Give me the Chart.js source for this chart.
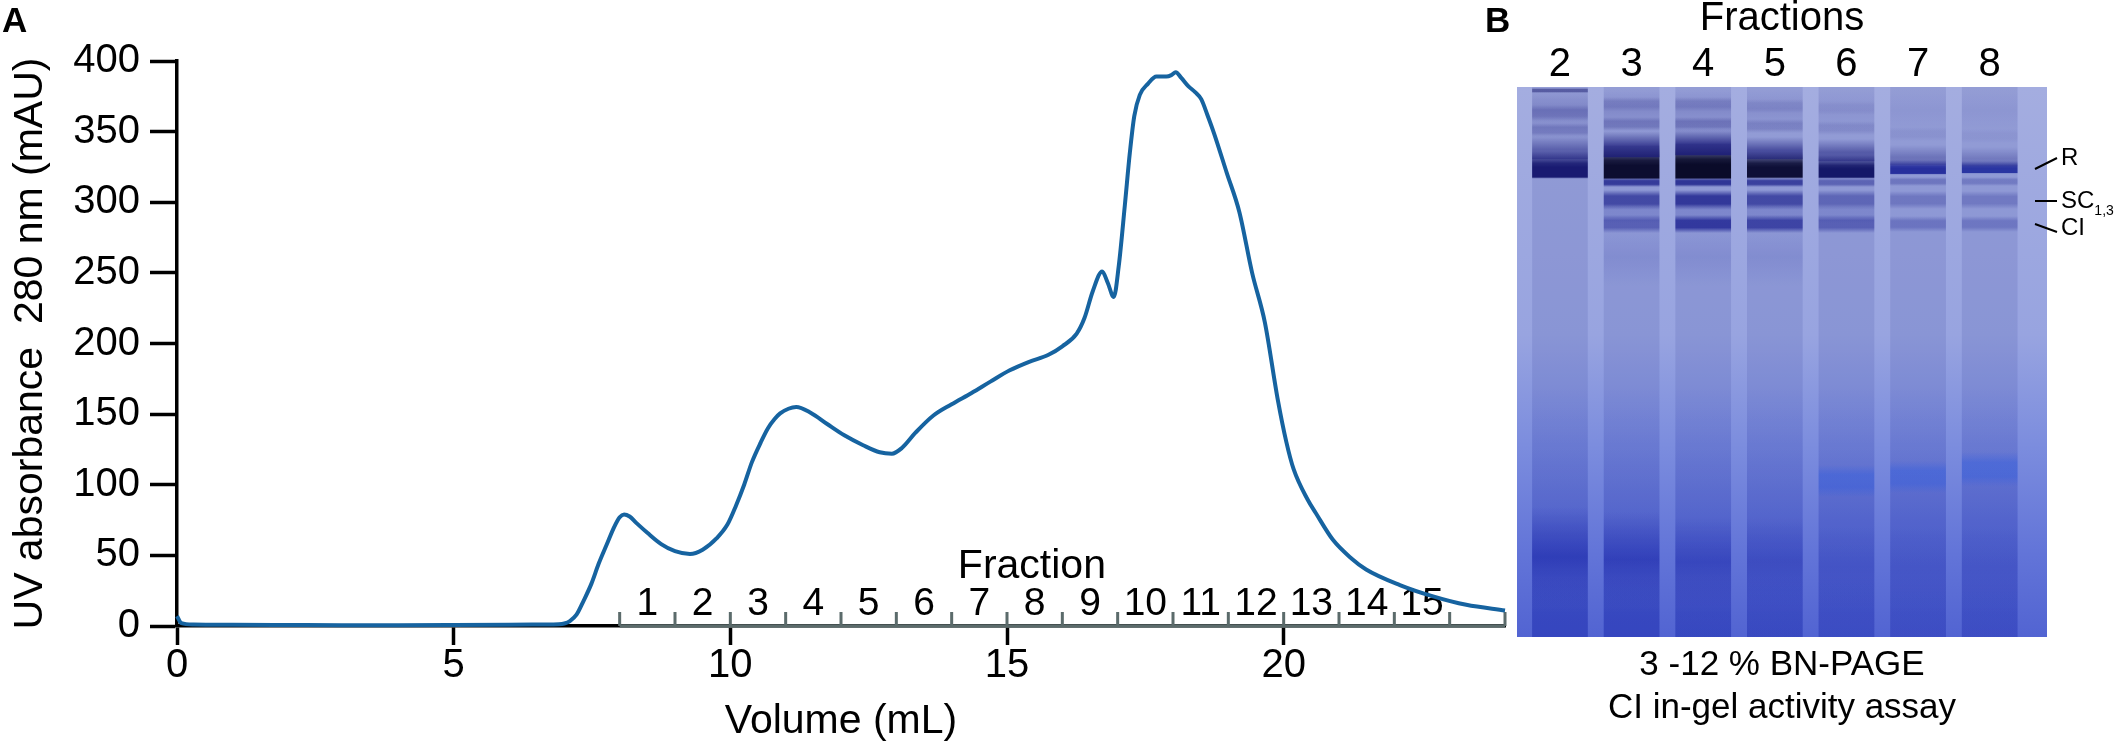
<!DOCTYPE html>
<html>
<head>
<meta charset="utf-8">
<script src="https://cdn.jsdelivr.net/npm/chart.js@4.4.1/dist/chart.umd.min.js"></script>
<style>
html,body{margin:0;padding:0;background:#fff;}
body{width:2125px;height:752px;position:relative;overflow:hidden;font-family:"Liberation Sans",Arial,sans-serif;color:#000;}
#wa{position:absolute;left:0;top:0;width:1512px;height:752px;}
#wb{position:absolute;left:1512px;top:0;width:613px;height:752px;}
.panel{position:absolute;font-weight:bold;font-size:35px;line-height:1;}
.mark{position:absolute;font-size:24px;line-height:1;white-space:nowrap;}
.mark sub{font-size:14px;vertical-align:baseline;position:relative;top:7px;}
</style>
</head>
<body>
<div id="wa"><canvas id="ca" width="1512" height="752"></canvas></div>
<div id="wb"><canvas id="cb" width="613" height="752"></canvas></div>
<div class="panel" style="left:2px;top:2px;">A</div>
<div class="panel" style="left:1485px;top:2px;">B</div>
<div class="mark" style="left:2061px;top:145px;">R</div>
<div class="mark" style="left:2061px;top:188px;">SC<sub>1,3</sub></div>
<div class="mark" style="left:2061px;top:215px;">CI</div>
<script>
const FONT = "'Liberation Sans', Arial, sans-serif";

// ---------- Panel A data ----------
const volume = [0.0,0.08,0.3,1,2,3,4,5,6,6.6,6.9,7.0,7.1,7.22,7.35,7.49,7.62,7.77,7.9,8.0,8.08,8.18,8.3,8.5,8.75,9.0,9.27,9.5,9.75,9.95,10.1,10.25,10.39,10.55,10.68,10.8,10.9,11.05,11.19,11.45,11.75,12.06,12.4,12.7,12.92,13.1,13.35,13.67,14.0,14.36,14.7,15.05,15.4,15.75,16.0,16.26,16.4,16.55,16.72,16.82,16.93,17.02,17.13,17.22,17.30,17.40,17.55,17.70,17.88,17.97,18.05,18.15,18.28,18.4,18.51,18.62,18.74,18.97,19.2,19.43,19.66,19.89,20.05,20.18,20.44,20.58,20.89,21.22,21.49,22.1,22.7,23.3,24.0];
const absorbance = [7,2,1,0.8,0.7,0.6,0.6,0.7,0.9,1.1,1.3,1.8,3.5,8,18,30,44,58,70,77,79,77.5,73,66,58,53,51,54,62,72,85,100,116,130,140,146.5,150.5,153.8,155,151,143,135,128,123,122,126,137,149,157,165,173,181,187,192,198,207,218,237,251,243,233,255,298,335,361,376,384,389,389,390,392,388,382,378,373,362,349,321,293,250,215,161,130,111,89,80,61,48,40,29,21,15,11];
const yTicks = [0,50,100,150,200,250,300,350,400];
const xTicks = [0,5,10,15,20];
const fractionLabels = ['1','2','3','4','5','6','7','8','9','10','11','12','13','14','15'];
const fractionEdges = [8,9,10,11,12,13,14,15,16,17,18,19,20,21,22,23,24];

// ---------- Panel B data (gel; migration units from the top of the gel) ----------
const laneNumbers = [2,3,4,5,6,7,8];
const laneSpan = [[0,550],[0,550],[0,550],[0,550],[0,550],[0,550],[0,550]];
const lowerSpan = [[300,550],[300,550],[300,550],[300,550],[300,550],[300,550],[300,550]];
const aggTop = [[2,45],[2,45],[2,45],[2,45],[2,45],[2,45],[2,45]];
const aggTopAlpha = [0.22,0.16,0.16,0.11,0.07,0.05,0.05];
const stria1 = [[18,34],[10,24],[10,24],[12,26],[14,28],null,null];
const stria1Alpha = [0.22,0.2,0.2,0.13,0.07,0,0];
const stria2 = [[36,50],[30,44],[30,44],[32,46],[34,48],[40,54],[42,56]];
const stria2Alpha = [0.28,0.28,0.3,0.2,0.14,0.08,0.06];
const aggLow = [[48,72],[44,70],[42,68],[50,72],[52,74],[58,78],[60,79]];
const aggLowAlpha = [0.45,0.75,0.8,0.6,0.5,0.3,0.25];
const wellLine = [[1,6],null,null,null,null,null,null];
const bandR = [[64,91],[58,92],[56,92],[64,91],[68,91],[73,87],[74,86]];
const bandRColor = [[24,25,110],[10,10,36],[7,7,28],[12,12,44],[20,22,100],[40,48,160],[44,55,165]];
const bandBelowR = [null,[91,100],[91,100],[91,100],[91,100],[90,99],[90,99]];
const bandBelowRAlpha = [0,0.8,0.85,0.75,0.45,0.3,0.26];
const bandSC = [null,[103,123],[103,123],[103,123],[103,123],[104,122],[104,122]];
const bandSCAlpha = [0,0.7,0.85,0.7,0.45,0.3,0.28];
const bandGap = [null,[118,136],[118,136],[118,136],[118,136],null,null];
const bandCI = [null,[128,146],[128,146],[128,146],[128,146],[129,145],[129,145]];
const bandCIAlpha = [0,0.5,0.85,0.75,0.5,0.32,0.3];
const midSmear = [null,[140,200],[140,200],[140,200],null,null,null];
const faintBand = [null,null,null,null,[378,410],[374,406],[365,400]];
const darkSmear = [[420,520],[425,520],[430,520],[430,520],[440,520],[440,520],[440,520]];
const darkSmearAlpha = [0.55,0.5,0.38,0.28,0.14,0.1,0.1];
const bottomSmear = [[490,550],[490,550],[490,550],[490,550],[490,550],[490,550],[490,550]];
const bottomSmearAlpha = [0.32,0.32,0.26,0.22,0.16,0.12,0.12];
const bandMarks = [[82,71],[114,114],[137,145]];

// ---------- Panel A chart ----------
const fractionPlugin = {
  id: 'fractionScale',
  beforeDatasetsDraw(chart) {
    const {ctx, scales: {x, y}} = chart;
    const y0 = y.getPixelForValue(0);
    ctx.save();
    ctx.strokeStyle = '#5b6b6b';
    ctx.lineWidth = 3.5;
    ctx.beginPath();
    ctx.moveTo(x.getPixelForValue(fractionEdges[0]), y0);
    ctx.lineTo(x.getPixelForValue(fractionEdges[fractionEdges.length - 1]), y0);
    ctx.stroke();
    ctx.lineWidth = 3;
    ctx.beginPath();
    fractionEdges.forEach(v => {
      const px = x.getPixelForValue(v);
      ctx.moveTo(px, y0);
      ctx.lineTo(px, y0 - 14);
    });
    ctx.stroke();
    ctx.fillStyle = '#000';
    ctx.textAlign = 'center';
    ctx.textBaseline = 'middle';
    ctx.font = "39px " + FONT;
    fractionLabels.forEach((t, i) => {
      const px = x.getPixelForValue((fractionEdges[i] + fractionEdges[i + 1]) / 2);
      ctx.fillText(t, px, y0 - 22);
    });
    ctx.font = "41px " + FONT;
    ctx.fillText('Fraction', x.getPixelForValue(15.45), y0 - 59);
    ctx.restore();
  }
};

new Chart(document.getElementById('ca'), {
  type: 'line',
  data: {
    datasets: [{
      data: volume.map((v, i) => ({x: v, y: absorbance[i]})),
      borderColor: '#1663a0',
      borderWidth: 4,
      pointRadius: 0,
      fill: false,
      cubicInterpolationMode: 'monotone',
      clip: false
    }]
  },
  options: {
    responsive: false,
    animation: false,
    devicePixelRatio: 1,
    layout: {padding: {left: 0, top: 61, right: 7, bottom: 0}},
    plugins: {legend: {display: false}, tooltip: {enabled: false}},
    scales: {
      x: {
        type: 'linear', min: 0, max: 24,
        afterBuildTicks(s) { s.ticks = xTicks.map(v => ({value: v})); },
        afterFit(s) { s.height = 126; },
        ticks: {font: {family: FONT, size: 40, lineHeight: 1}, color: '#000', padding: 1, maxRotation: 0, autoSkip: false},
        grid: {drawOnChartArea: false, drawTicks: true, tickLength: 19, tickWidth: 3.5, tickColor: '#000'},
        border: {display: true, color: '#000', width: 3.5},
        title: {display: true, text: 'Volume (mL)', color: '#000', font: {family: FONT, size: 41, lineHeight: 1.2}, padding: {top: 0, bottom: 6}}
      },
      y: {
        type: 'linear', min: 0, max: 400,
        afterBuildTicks(s) { s.ticks = yTicks.map(v => ({value: v})); },
        afterFit(s) { s.width = 177; },
        ticks: {font: {family: FONT, size: 40, lineHeight: 1}, color: '#000', padding: 10},
        grid: {drawOnChartArea: false, drawTicks: true, tickLength: 27, tickWidth: 3.5, tickColor: '#000'},
        border: {display: true, color: '#000', width: 3.5},
        title: {display: true, text: 'UV absorbance  280 nm (mAU)', color: '#000', font: {family: FONT, size: 41, lineHeight: 1.2}, padding: {top: 6, bottom: 0}}
      }
    }
  },
  plugins: [fractionPlugin]
});

// ---------- Panel B chart ----------
function bars(spans) { return laneNumbers.map((l, i) => ({x: l, y: spans[i]})); }
// soft vertical band: colour (rgb triple or per-lane array), per-lane alpha, and a vertical opacity profile
function soft(rgb, alphas, profile) {
  return (c) => {
    const raw = c.raw;
    if (!raw || !raw.y) return 'rgba(0,0,0,0)';
    const col = Array.isArray(rgb[0]) ? rgb[c.dataIndex] : rgb;
    const a = Array.isArray(alphas) ? alphas[c.dataIndex] : alphas;
    const ys = c.chart.scales.y;
    if (!ys) return 'rgba(' + col.join(',') + ',' + a + ')';
    const p0 = ys.getPixelForValue(raw.y[0]), p1 = ys.getPixelForValue(raw.y[1]);
    if (!isFinite(p0) || !isFinite(p1) || p0 === p1) return 'rgba(' + col.join(',') + ',' + a + ')';
    const g = c.chart.ctx.createLinearGradient(0, p0, 0, p1);
    profile.forEach(([o, k]) => g.addColorStop(o, 'rgba(' + col.join(',') + ',' + (a * k).toFixed(3) + ')'));
    return g;
  };
}
const SOFT = [[0, 0], [0.3, 1], [0.7, 1], [1, 0]];
const FADE_IN = [[0, 0], [0.45, 0.9], [0.6, 1], [0.96, 1], [1, 0.5]];
const WIDE = [[0, 0], [0.5, 1], [1, 0]];
const RISE = [[0, 0], [0.6, 1], [1, 1]];
function ds(spans, fill) {
  return {data: bars(spans), backgroundColor: fill, borderWidth: 0, barThickness: 55, grouped: false};
}

const gelPlugin = {
  id: 'gel',
  beforeDatasetsDraw(chart) {
    const {ctx, chartArea: a} = chart;
    const g = ctx.createLinearGradient(0, a.top, 0, a.bottom);
    g.addColorStop(0, 'rgb(164,173,224)');
    g.addColorStop(0.45, 'rgb(152,164,224)');
    g.addColorStop(0.65, 'rgb(124,141,222)');
    g.addColorStop(0.85, 'rgb(98,116,216)');
    g.addColorStop(1, 'rgb(82,100,210)');
    ctx.save();
    ctx.fillStyle = g;
    ctx.fillRect(a.left, a.top, a.right - a.left, a.bottom - a.top);
    ctx.restore();
  },
  afterDraw(chart) {
    const {ctx, chartArea: a, scales: {y}} = chart;
    ctx.save();
    ctx.strokeStyle = '#000';
    ctx.lineWidth = 2;
    ctx.beginPath();
    bandMarks.forEach(m => {
      ctx.moveTo(a.right - 12, y.getPixelForValue(m[0]));
      ctx.lineTo(a.right + 10, y.getPixelForValue(m[1]));
    });
    ctx.stroke();
    ctx.restore();
  }
};

new Chart(document.getElementById('cb'), {
  type: 'bar',
  data: {
    datasets: [
      ds(laneSpan, 'rgba(30,40,140,0.12)'),
      ds(lowerSpan, soft([20,40,190], 0.2, RISE)),
      ds(aggTop, soft([45,45,140], aggTopAlpha, WIDE)),
      ds(stria1, soft([40,40,130], stria1Alpha, SOFT)),
      ds(stria2, soft([40,40,130], stria2Alpha, SOFT)),
      ds(aggLow, soft([25,25,120], aggLowAlpha, RISE)),
      ds(wellLine, soft([40,42,120], 0.55, SOFT)),
      ds(bandBelowR, soft([30,35,140], bandBelowRAlpha, SOFT)),
      ds(bandGap, soft([60,70,170], 0.2, SOFT)),
      ds(bandSC, soft([35,40,145], bandSCAlpha, SOFT)),
      ds(bandCI, soft([35,40,150], bandCIAlpha, SOFT)),
      ds(midSmear, soft([70,80,180], 0.14, WIDE)),
      ds(faintBand, soft([60,110,240], 0.45, SOFT)),
      ds(darkSmear, soft([25,35,170], darkSmearAlpha, WIDE)),
      ds(bottomSmear, soft([30,45,180], bottomSmearAlpha, RISE)),
      ds(bandR, soft(bandRColor, 1, FADE_IN))
    ]
  },
  options: {
    responsive: false,
    animation: false,
    devicePixelRatio: 1,
    layout: {padding: {left: 5, right: 78, top: 0, bottom: 0}},
    plugins: {
      legend: {display: false},
      tooltip: {enabled: false},
      title: {
        display: true, position: 'bottom', fullSize: false, align: 'center',
        text: ['3 -12 % BN-PAGE', 'CI in-gel activity assay'],
        color: '#000', font: {family: FONT, size: 35, lineHeight: 1.2286, weight: 'normal'},
        padding: {top: 6.5, bottom: 22.5}
      }
    },
    scales: {
      x: {
        type: 'linear', position: 'top', min: 1.4, max: 8.8, offset: false,
        afterBuildTicks(s) { s.ticks = laneNumbers.map(v => ({value: v})); },
        afterFit(s) { s.height = 87; },
        ticks: {font: {family: FONT, size: 40, lineHeight: 1}, color: '#000', padding: 2.5, maxRotation: 0, autoSkip: false},
        grid: {display: false, drawTicks: false, offset: false},
        border: {display: false},
        title: {display: true, text: 'Fractions', color: '#000', font: {family: FONT, size: 40, lineHeight: 1}, padding: {top: -1, bottom: 0}}
      },
      y: {type: 'linear', reverse: true, min: 0, max: 550, display: false}
    }
  },
  plugins: [gelPlugin]
});
</script>
</body>
</html>
